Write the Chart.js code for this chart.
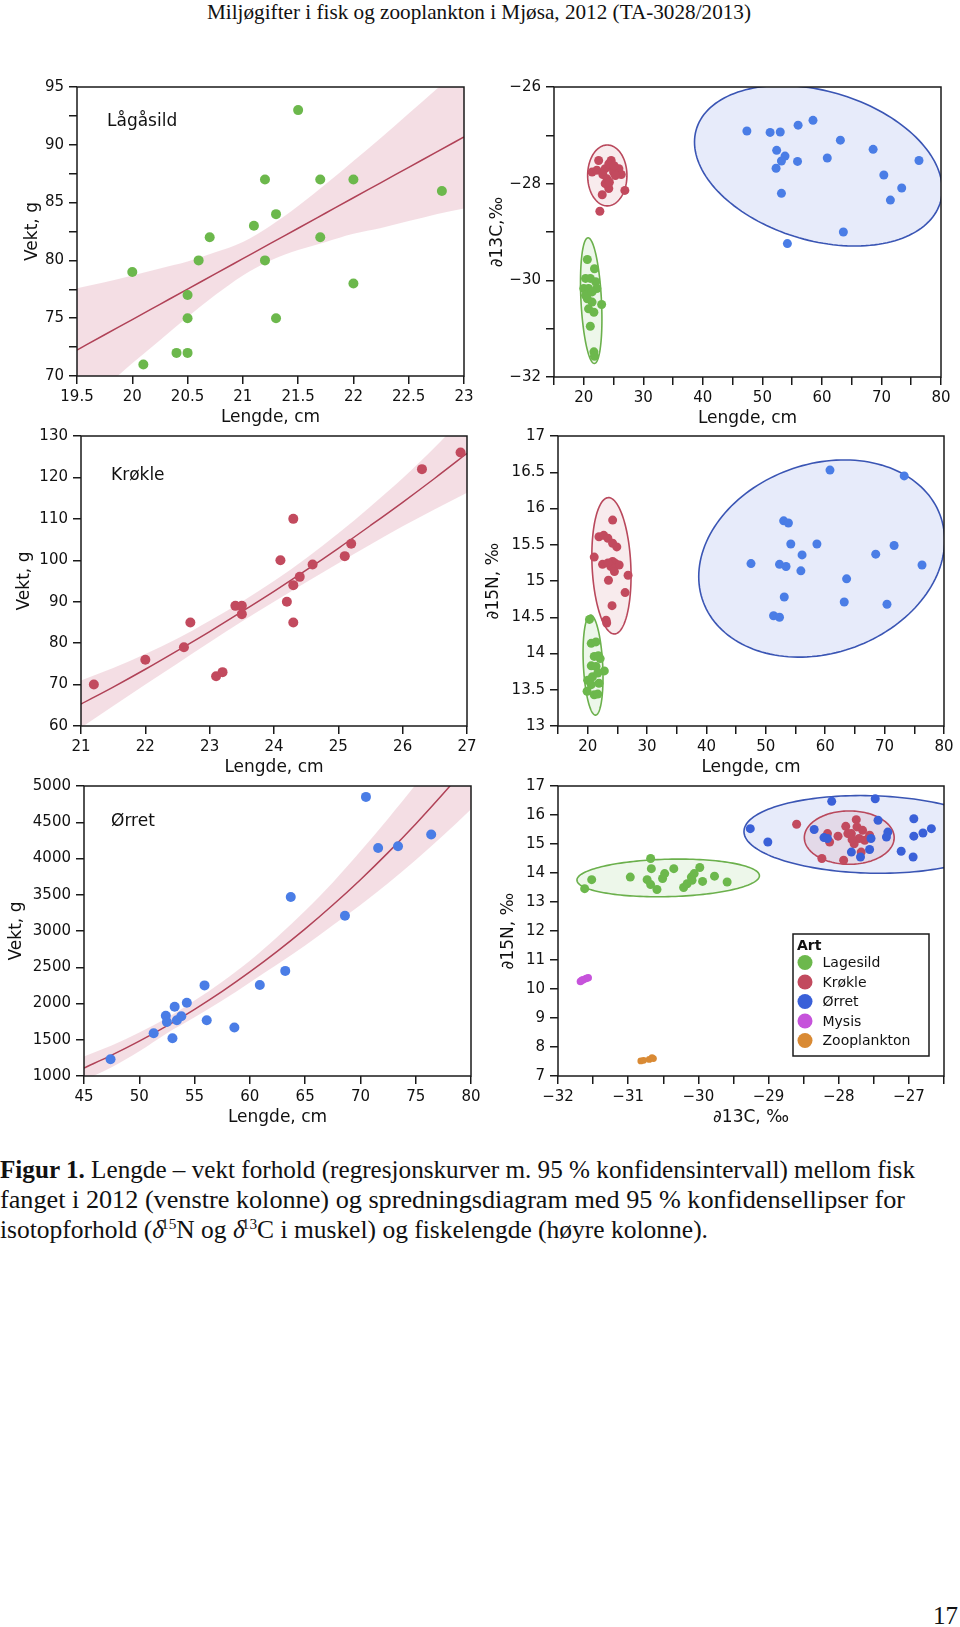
<!DOCTYPE html>
<html lang="no">
<head>
<meta charset="utf-8">
<title>Figur 1 – Mjøsa 2012</title>
<script src="https://cdn.jsdelivr.net/npm/chart.js@4.4.1/dist/chart.umd.min.js"></script>
<style>
  html, body { margin: 0; padding: 0; background: #fff; }
  body { width: 960px; height: 1627px; position: relative; overflow: hidden; }
  canvas { position: absolute; }
  .txt { position: absolute; white-space: nowrap; font-family: "Liberation Serif", "DejaVu Serif", serif; color: #111; transform-origin: 0 0; }
  .txt sup { font-size: 0.6em; vertical-align: 0; position: relative; top: -0.6em; margin-left: -3px; }
</style>
</head>
<body>
<div class="txt" id="hdr" style="left:207px;top:0;font-size:21px;line-height:24px">Miljøgifter i fisk og zooplankton i Mjøsa, 2012 (TA-3028/2013)</div>
<div class="txt fit" data-w="915" style="left:0;top:1155px;font-size:25px;line-height:30px"><b>Figur 1.</b> Lengde – vekt forhold (regresjonskurver m. 95 % konfidensintervall) mellom fisk</div>
<div class="txt fit" data-w="905" style="left:0;top:1185px;font-size:25px;line-height:30px">fanget i 2012 (venstre kolonne) og spredningsdiagram med 95 % konfidensellipser for</div>
<div class="txt fit" data-w="708" style="left:0;top:1215px;font-size:25px;line-height:30px">isotopforhold (<i>δ</i><sup>15</sup>N og <i>δ</i><sup>13</sup>C i muskel) og fiskelengde (høyre kolonne).</div>
<div class="txt" style="right:2px;top:1601px;font-size:25px;line-height:30px">17</div>

<script>
// Lågåsild: lengde (cm) og vekt (g)
const lagLen  = [21.5, 21.2, 21.7, 22.0, 22.8, 21.3, 21.1, 20.7, 21.7, 20.6, 21.2, 20.0, 22.0, 20.5, 20.5, 21.3, 20.4, 20.5, 20.1];
const lagVekt = [93, 87, 87, 87, 86, 84, 83, 82, 82, 80, 80, 79, 78, 77, 75, 75, 72, 72, 71];
const lagFitX  = [19.5, 19.75, 20, 20.25, 20.5, 20.75, 21, 21.25, 21.5, 21.75, 22, 22.25, 22.5, 22.75, 23];
const lagFitY  = [72.25, 73.57, 74.88, 76.2, 77.52, 78.83, 80.15, 81.47, 82.78, 84.1, 85.42, 86.73, 88.05, 89.36, 90.68];
const lagFitHi = [77.6, 78.1, 78.7, 79.3, 79.9, 80.7, 81.6, 83.0, 84.7, 86.6, 88.6, 90.6, 92.7, 94.8, 96.9];
const lagFitLo = [66.9, 69.0, 71.1, 73.1, 75.1, 77.0, 78.7, 80.0, 80.9, 81.6, 82.3, 82.8, 83.4, 84.0, 84.5];

// Krøkle
const kroLen  = [21.2, 22.0, 22.6, 22.7, 23.1, 23.2, 23.4, 23.5, 23.5, 24.1, 24.2, 24.3, 24.3, 24.3, 24.4, 24.6, 25.1, 25.2, 26.3, 26.9];
const kroVekt = [70, 76, 79, 85, 72, 73, 89, 89, 87, 100, 90, 110, 94, 85, 96, 99, 101, 104, 122, 126];
const kroFitX  = [21, 21.5, 22, 22.5, 23, 23.5, 24, 24.5, 25, 25.5, 26, 26.5, 27];
const kroFitY  = [65.3, 69.4, 73.7, 78.2, 82.8, 87.6, 92.5, 97.6, 102.9, 108.4, 114.0, 119.8, 125.8];
const kroFitHi = [71.0, 74.0, 77.4, 81.1, 85.4, 90.0, 95.0, 100.5, 106.5, 113.0, 119.8, 127.3, 135.3];
const kroFitLo = [59.6, 64.8, 70.0, 75.1, 80.2, 85.2, 90.0, 94.7, 99.3, 103.8, 108.2, 112.3, 116.3];

// Ørret
const orrLen  = [47.4, 51.3, 52.4, 52.5, 53.0, 53.2, 53.4, 53.8, 54.3, 55.9, 56.1, 58.6, 60.9, 63.2, 63.7, 68.6, 70.5, 71.6, 73.4, 76.4];
const orrVekt = [1230, 1590, 1830, 1745, 1520, 1955, 1770, 1825, 2010, 2250, 1770, 1670, 2255, 2450, 3470, 3210, 4850, 4145, 4170, 4330];
const orrFitX  = [45, 47.5, 50, 52.5, 55, 57.5, 60, 62.5, 65, 67.5, 70, 72.5, 75, 77.5, 80];
const orrFitY  = [1110, 1287, 1480, 1691, 1920, 2167, 2435, 2722, 3029, 3358, 3708, 4081, 4477, 4896, 5339];
const orrFitHi = [1270, 1420, 1600, 1800, 2040, 2300, 2590, 2920, 3280, 3670, 4100, 4550, 5020, 5530, 6070];
const orrFitLo = [940, 1120, 1340, 1590, 1810, 2040, 2290, 2540, 2800, 3080, 3360, 3660, 3980, 4320, 4680];

// Lengde mot δ13C
const c13LenLag = [20.6, 21.8, 20.3, 21.1, 22.0, 20.0, 20.8, 22.2, 20.6, 21.4, 23.0, 20.8, 21.7, 21.1, 21.7, 21.8, 20.3, 21.4];
const c13Lag    = [-29.57, -29.76, -29.96, -29.96, -30.03, -30.17, -30.17, -30.17, -30.38, -30.45, -30.5, -30.59, -30.66, -30.95, -31.48, -31.57, -30.31, -30.24];
const c13LenKro = [22.5, 24.6, 21.4, 22.2, 23.6, 24.8, 25.9, 26.3, 23.2, 23.9, 24.2, 23.1, 26.9, 22.7, 25.0, 23.6, 25.3, 24.2, 24.3, 25.1];
const c13Kro    = [-27.52, -27.52, -27.76, -27.72, -27.69, -27.66, -27.69, -27.81, -27.81, -27.9, -28.1, -28.23, -28.14, -28.57, -27.76, -28.0, -27.83, -27.59, -27.97, -27.63];
const c13LenOrr = [47.4, 51.3, 53.0, 56.0, 58.5, 63.1, 52.4, 53.8, 53.2, 52.3, 55.9, 60.9, 68.6, 76.3, 70.4, 73.4, 71.5, 53.2, 63.6, 54.2];
const c13Orr    = [-26.91, -26.94, -26.93, -26.79, -26.69, -27.1, -27.31, -27.43, -27.53, -27.68, -27.54, -27.47, -27.29, -27.52, -27.82, -28.09, -28.34, -28.2, -29.0, -29.24];

// Lengde mot δ15N
const n15LenLag = [20.3, 20.6, 21.4, 21.1, 22.1, 20.6, 21.4, 22.8, 20.0, 20.8, 21.7, 21.9, 19.9, 21.1, 21.7, 20.6, 21.8];
const n15Lag    = [14.47, 14.14, 14.16, 13.96, 13.93, 13.83, 13.82, 13.76, 13.63, 13.68, 13.73, 13.59, 13.48, 13.43, 13.44, 13.57, 13.97];
const n15LenKro = [24.2, 21.9, 22.7, 23.4, 24.2, 24.9, 21.1, 22.5, 24.2, 24.7, 25.3, 23.9, 24.5, 23.5, 26.8, 26.3, 24.1, 23.1, 23.2, 23.4];
const n15Kro    = [15.84, 15.61, 15.63, 15.59, 15.52, 15.47, 15.33, 15.23, 15.27, 15.24, 15.22, 15.2, 15.13, 15.01, 15.08, 14.84, 14.66, 14.46, 14.42, 15.25];
const n15LenOrr = [60.8, 73.3, 53.0, 53.8, 54.2, 58.6, 71.6, 56.1, 68.5, 47.5, 52.3, 53.4, 55.9, 76.3, 63.6, 53.1, 63.2, 70.4, 51.3, 52.3];
const n15Orr    = [16.53, 16.45, 15.83, 15.8, 15.51, 15.51, 15.49, 15.36, 15.37, 15.24, 15.23, 15.2, 15.14, 15.22, 15.03, 14.78, 14.71, 14.68, 14.52, 14.5];

// δ13C mot δ15N
const isoCLag = [-31.62, -31.52, -30.97, -30.68, -30.67, -30.73, -30.68, -30.59, -30.51, -30.48, -30.35, -30.21, -30.16, -30.1, -30.06, -29.98, -29.94, -29.77, -29.59, -30.09];
const isoNLag = [13.46, 13.77, 13.86, 14.5, 14.15, 13.77, 13.6, 13.43, 13.81, 13.98, 14.15, 13.5, 13.63, 13.86, 13.98, 14.19, 13.71, 13.89, 13.69, 13.75];
const isoCKro = [-28.6, -28.24, -27.93, -28.16, -28.01, -27.9, -27.82, -27.75, -27.74, -27.71, -27.66, -27.63, -27.78, -27.68, -27.87, -27.81, -28.13, -27.56];
const isoNKro = [15.68, 14.5, 14.44, 15.36, 15.27, 15.61, 15.36, 15.84, 15.59, 15.19, 15.47, 15.13, 15.01, 14.72, 15.36, 15.15, 15.07, 15.3];
const isoCOrr = [-29.26, -29.01, -28.1, -27.48, -28.35, -28.21, -27.44, -26.93, -26.93, -26.8, -26.68, -27.3, -27.32, -27.54, -27.56, -27.82, -27.69, -27.11, -26.94, -28.16];
const isoNOrr = [15.53, 15.07, 16.47, 16.56, 15.5, 15.22, 15.82, 15.87, 15.27, 15.38, 15.53, 15.41, 15.24, 15.19, 14.81, 14.72, 14.55, 14.75, 14.55, 15.19];
const isoCMys = [-31.68, -31.64, -31.6, -31.57, -31.66];
const isoNMys = [10.26, 10.32, 10.36, 10.39, 10.3];
const isoCZoo = [-30.82, -30.78, -30.7, -30.66, -30.64];
const isoNZoo = [7.52, 7.54, 7.57, 7.63, 7.6];

// 95 % ellipser: [senter x, senter y, halvbredde, halvhøyde, y-forskyvning ved x-ytterpunkt]  (Lagesild, Krøkle, Ørret)
const ellLenC13 = [[21.25, -30.42, 1.8, 1.3, -0.38], [23.95, -27.83, 3.3, 0.63, 0], [59.4, -27.63, 20.8, 1.66, -0.49]];
const ellLenN15 = [[20.9, 13.84, 1.68, 0.69, -0.17], [24.0, 15.21, 3.3, 0.94, -0.14], [59.4, 15.31, 20.7, 1.36, 0.25]];
const ellC13N15 = [[-30.43, 13.83, 1.3, 0.65, 0.075], [-27.85, 15.22, 0.64, 0.92, 0], [-27.55, 15.33, 1.8, 1.34, -0.1]];

const artNames = ['Lagesild', 'Krøkle', 'Ørret', 'Mysis', 'Zooplankton'];

const GREEN = '#6cb84c', RED = '#c24a5e', BLUE = '#4a7de6', BLUE2 = '#3a60d8', MYSIS = '#c653db', ZOO = '#d98a34';
const FIT = '#b04257', BAND = 'rgba(205,105,130,0.22)';
const ELL_STROKE = ['#6bb04c', '#b9485c', '#3a55b4'];
const ELL_FILL = ['rgba(110,190,80,0.12)', 'rgba(200,90,110,0.12)', 'rgba(60,90,210,0.12)'];

Chart.defaults.font.family = '"DejaVu Sans", sans-serif';
Chart.defaults.font.size = 15;
Chart.defaults.color = '#111';
Chart.defaults.animation = false;

const pts = (xs, ys) => xs.map((x, i) => ({ x, y: ys[i] }));
const minus = v => String(v).replace('-', '\u2212');

// ramme rundt plottet + navn på art
const frame = {
  id: 'frame',
  afterDatasetsDraw(chart, args, opts) {
    const { ctx, chartArea: a } = chart;
    ctx.save();
    ctx.strokeStyle = '#1a1a1a';
    ctx.lineWidth = 1.5;
    ctx.strokeRect(a.left, a.top, a.right - a.left, a.bottom - a.top);
    if (opts.label) {
      ctx.fillStyle = '#111';
      ctx.font = '17px "DejaVu Sans"';
      ctx.textBaseline = 'middle';
      ctx.fillText(opts.label, a.left + opts.lx, a.top + opts.ly);
    }
    ctx.restore();
  }
};

const ellipses = {
  id: 'ellipses',
  beforeDatasetsDraw(chart, args, opts) {
    if (!opts.list) return;
    const { ctx, chartArea: a, scales: { x, y } } = chart;
    ctx.save();
    ctx.beginPath();
    ctx.rect(a.left, a.top, a.right - a.left, a.bottom - a.top);
    ctx.clip();
    for (let i = opts.list.length - 1; i >= 0; i--) {
      const [cx, cy, wx, wy, k] = opts.list[i];
      const s = Math.sqrt(wy * wy - k * k);
      ctx.beginPath();
      for (let j = 0; j <= 160; j++) {
        const t = j / 160 * Math.PI * 2;
        const px = x.getPixelForValue(cx + wx * Math.cos(t));
        const py = y.getPixelForValue(cy + k * Math.cos(t) + s * Math.sin(t));
        if (j) ctx.lineTo(px, py); else ctx.moveTo(px, py);
      }
      ctx.closePath();
      ctx.fillStyle = ELL_FILL[i];
      ctx.fill();
      ctx.strokeStyle = ELL_STROKE[i];
      ctx.lineWidth = 1.6;
      ctx.stroke();
    }
    ctx.restore();
  }
};

// "Art"-forklaring inne i plottet
const artLegend = {
  id: 'artLegend',
  afterDatasetsDraw(chart, args, opts) {
    if (!opts.show) return;
    const { ctx, chartArea: a } = chart;
    const bx = a.left + 235, by = a.top + 148;
    ctx.save();
    ctx.fillStyle = '#fff';
    ctx.fillRect(bx, by, 136, 122);
    ctx.strokeStyle = '#1a1a1a';
    ctx.lineWidth = 1.5;
    ctx.strokeRect(bx, by, 136, 122);
    ctx.fillStyle = '#111';
    ctx.textBaseline = 'middle';
    ctx.font = 'bold 14px "DejaVu Sans"';
    ctx.fillText('Art', bx + 4, by + 12);
    ctx.font = '14px "DejaVu Sans"';
    const sets = chart.data.datasets.slice().sort((p, q) => artNames.indexOf(p.label) - artNames.indexOf(q.label));
    sets.forEach((d, i) => {
      const yy = by + 28.5 + i * 19.5;
      ctx.fillStyle = d.backgroundColor;
      ctx.beginPath();
      ctx.arc(bx + 12, yy, 7.5, 0, Math.PI * 2);
      ctx.fill();
      ctx.fillStyle = '#111';
      ctx.fillText(d.label, bx + 29.5, yy + 1);
    });
    ctx.restore();
  }
};

function dots(label, data, color, r, order) {
  return { type: 'scatter', label, data, backgroundColor: color, borderWidth: 0, pointRadius: r, pointHoverRadius: r, order: order || 0 };
}

function fitSets(xs, fy, hi, lo) {
  return [
    { type: 'line', data: pts(xs, fy), borderColor: FIT, borderWidth: 1.5, pointRadius: 0, fill: false, cubicInterpolationMode: 'monotone', order: 1 },
    { type: 'line', data: pts(xs, hi), borderWidth: 0, pointRadius: 0, fill: '+1', backgroundColor: BAND, cubicInterpolationMode: 'monotone', order: 2 },
    { type: 'line', data: pts(xs, lo), borderWidth: 0, pointRadius: 0, fill: false, cubicInterpolationMode: 'monotone', order: 3 }
  ];
}

function makePanel(p) {
  const [L, T, R, B] = p.plot;
  const cw = p.left === 0 ? 490 : 480;
  const top = T - 20, h = B + 56 - top;
  const cv = document.createElement('canvas');
  cv.width = cw; cv.height = h;
  cv.style.left = p.left + 'px';
  cv.style.top = top + 'px';
  cv.style.width = cw + 'px';
  cv.style.height = h + 'px';
  document.body.appendChild(cv);

  const grid = { drawOnChartArea: false, drawTicks: true, tickLength: 8, color: '#1a1a1a', lineWidth: 1.5 };
  new Chart(cv, {
    type: 'scatter',
    data: { datasets: p.datasets },
    options: {
      responsive: false,
      devicePixelRatio: 1,
      layout: { padding: { left: 0, top: 20, right: p.left + cw - R, bottom: 0 } },
      scales: {
        x: {
          type: 'linear', min: p.x[0], max: p.x[1],
          border: { display: false }, grid,
          ticks: { stepSize: p.x[2], autoSkip: false, maxRotation: 0, padding: 4.5, color: '#111', callback: p.xFmt || (v => v) },
          title: { display: true, text: p.xTitle, font: { size: 17 }, color: '#111', padding: { top: 0, bottom: 3.8 } },
          afterFit: s => { s.height = 56; }
        },
        y: {
          type: 'linear', min: p.y[0], max: p.y[1],
          border: { display: false }, grid,
          ticks: { stepSize: p.y[2], autoSkip: false, padding: 5, color: '#111', callback: p.yFmt || (v => v) },
          title: { display: true, text: p.yTitle, font: { size: 17 }, color: '#111', padding: { top: p.yTitleX - p.left - 10.2, bottom: 0 } },
          afterFit: s => { s.width = L - p.left; }
        }
      },
      plugins: {
        legend: { display: false },
        tooltip: { enabled: false },
        frame: p.frame || {},
        ellipses: { list: p.ellipses },
        artLegend: { show: !!p.legend }
      }
    },
    plugins: [ellipses, frame, artLegend]
  });
}

// venstre kolonne: lengde–vekt
makePanel({
  left: 0, plot: [77, 87, 464, 376], yTitleX: 33,
  x: [19.5, 23, 0.5], y: [70, 95, 2.5],
  yFmt: v => (v % 5 === 0 ? v : ''),
  xTitle: 'Lengde, cm', yTitle: 'Vekt, g',
  frame: { label: 'Lågåsild', lx: 30, ly: 35 },
  datasets: [dots('Lågåsild', pts(lagLen, lagVekt), GREEN, 5)].concat(fitSets(lagFitX, lagFitY, lagFitHi, lagFitLo))
});
makePanel({
  left: 0, plot: [81, 436, 467, 726], yTitleX: 25,
  x: [21, 27, 1], y: [60, 130, 10],
  xTitle: 'Lengde, cm', yTitle: 'Vekt, g',
  frame: { label: 'Krøkle', lx: 30, ly: 40 },
  datasets: [dots('Krøkle', pts(kroLen, kroVekt), RED, 5)].concat(fitSets(kroFitX, kroFitY, kroFitHi, kroFitLo))
});
makePanel({
  left: 0, plot: [84, 786, 471, 1076], yTitleX: 17,
  x: [45, 80, 5], y: [1000, 5000, 500],
  xTitle: 'Lengde, cm', yTitle: 'Vekt, g',
  frame: { label: 'Ørret', lx: 27, ly: 36 },
  datasets: [dots('Ørret', pts(orrLen, orrVekt), BLUE, 5)].concat(fitSets(orrFitX, orrFitY, orrFitHi, orrFitLo))
});

// høyre kolonne: isotoper
makePanel({
  left: 480, plot: [554, 87, 941, 377], yTitleX: 497.5,
  x: [15, 80, 5], y: [-32, -26, 1],
  xFmt: v => (v % 10 === 0 ? v : ''),
  yFmt: v => (v % 2 === 0 ? minus(v) : ''),
  xTitle: 'Lengde, cm', yTitle: '∂13C,‰',
  ellipses: ellLenC13,
  datasets: [
    dots('Lagesild', pts(c13LenLag, c13Lag), GREEN, 4.5, 2),
    dots('Krøkle', pts(c13LenKro, c13Kro), RED, 4.5, 1),
    dots('Ørret', pts(c13LenOrr, c13Orr), BLUE, 4.5, 0)
  ]
});
makePanel({
  left: 480, plot: [558, 436, 944, 726], yTitleX: 494,
  x: [15, 80, 5], y: [13, 17, 0.5],
  xFmt: v => (v % 10 === 0 ? v : ''),
  xTitle: 'Lengde, cm', yTitle: '∂15N, ‰',
  ellipses: ellLenN15,
  datasets: [
    dots('Lagesild', pts(n15LenLag, n15Lag), GREEN, 4.5, 2),
    dots('Krøkle', pts(n15LenKro, n15Kro), RED, 4.5, 1),
    dots('Ørret', pts(n15LenOrr, n15Orr), BLUE, 4.5, 0)
  ]
});
makePanel({
  left: 480, plot: [558, 786, 944, 1076], yTitleX: 509,
  x: [-32, -26.5, 0.5], y: [7, 17, 1],
  xFmt: v => (Number.isInteger(v) ? minus(v) : ''),
  xTitle: '∂13C, ‰', yTitle: '∂15N, ‰',
  ellipses: ellC13N15,
  legend: true,
  datasets: [
    dots('Ørret', pts(isoCOrr, isoNOrr), BLUE2, 4.5, 0),
    dots('Krøkle', pts(isoCKro, isoNKro), RED, 4.5, 1),
    dots('Lagesild', pts(isoCLag, isoNLag), GREEN, 4.5, 2),
    dots('Mysis', pts(isoCMys, isoNMys), MYSIS, 3.8, 3),
    dots('Zooplankton', pts(isoCZoo, isoNZoo), ZOO, 3.4, 4)
  ]
});

// tekstlinjer tilpasses bredden i originalen
const hdr = document.getElementById('hdr');
hdr.style.transform = 'scaleX(' + (544 / hdr.getBoundingClientRect().width) + ')';
document.querySelectorAll('.fit').forEach(el => {
  const w = el.getBoundingClientRect().width;
  el.style.transform = 'scaleX(' + (+el.dataset.w / w) + ')';
});
</script>
</body>
</html>
